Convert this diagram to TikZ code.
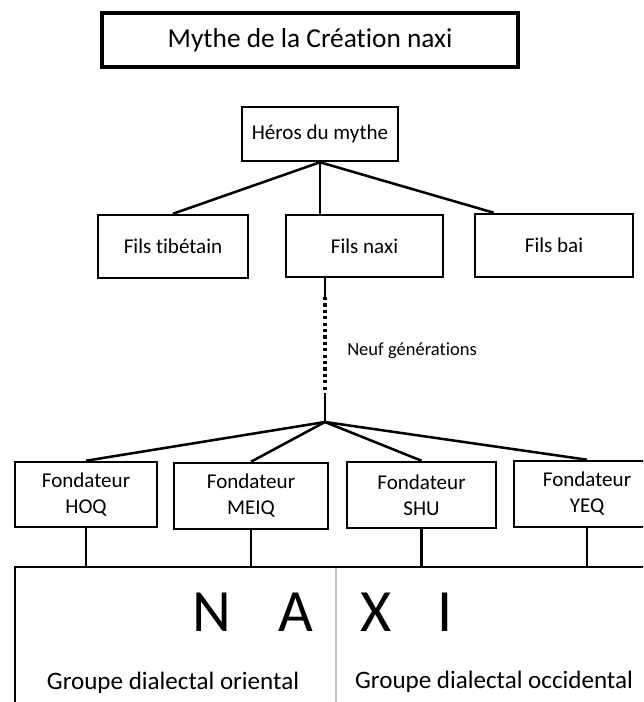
\documentclass[tikz,border=0pt]{standalone}
\usepackage{fontspec}
\setmainfont{Carlito}[Ligatures={NoCommon,NoContextual}]
\begin{document}
\begin{tikzpicture}[x=0.75pt,y=-0.75pt,
  box/.style={draw,line width=1.9pt,inner sep=0pt,align=center,font=\fontsize{15.8}{19.5}\selectfont},
  conn/.style={line width=1.9pt},
  dotline/.style={line width=2.8pt,dash pattern=on 2.4pt off 2.4pt}]
\useasboundingbox (0,0) rectangle (643,702);
\clip (0,0) rectangle (643,702);
% title
\node[box,line width=2.8pt,minimum width=312pt,minimum height=40.5pt,font=\fontsize{20.5}{24}\selectfont] (title) at (310,40) {Mythe de la Créat\kern0pt ion naxi};
% hero and sons
\node[box,minimum width=117pt,minimum height=40.5pt] (heros) at (320,134) {Héros du mythe};
\node[box,minimum width=112.5pt,minimum height=47.25pt] (ftib) at (173,246.5) {Fils t\kern0pt ibétain};
\node[box,minimum width=117.75pt,minimum height=46.5pt] (fnaxi) at (364.5,246) {Fils naxi};
\node[box,minimum width=118.5pt,minimum height=47.25pt] (fbai) at (554,245.5) {Fils bai};
\draw[conn] (heros.south) -- (ftib.north);
\draw[conn] (heros.south) -- (heros.south |- fnaxi.north);
\draw[conn] (heros.south) -- ([xshift=15pt]fbai.north west);
% nine generations
\coordinate (j) at (325,422);
\coordinate (d1) at (325,297);
\coordinate (d2) at (325,393);
\draw[conn] (fnaxi.south -| j) -- (d1);
\draw[dotline] (d1) -- (d2);
\draw[conn] (d2) -- (j);
\node[anchor=west,inner sep=0pt,font=\fontsize{13.9}{16}\selectfont] (neuf) at (347,351) {Neuf générat\kern0pt ions};
% founders
\node[box,minimum width=106.5pt,minimum height=48.75pt] (hoq) at (86,494.5) {Fondateur\\HOQ};
\node[box,minimum width=115.5pt,minimum height=49.5pt] (meiq) at (251,496) {Fondateur\\MEIQ};
\node[box,minimum width=111.75pt,minimum height=49.5pt] (shu) at (421.5,495) {Fondateur\\SHU};
\node[box,minimum width=109.5pt,minimum height=49.5pt] (yeq) at (587,494) {Fondateur\\YEQ};
\draw[conn] (j) -- (hoq.north);
\draw[conn] (j) -- (meiq.north);
\draw[conn] (j) -- (shu.north);
\draw[conn] (j) -- (yeq.north);
% big table
\coordinate (bt) at (15,567);
\draw[line width=1.5pt] (bt) rectangle (720,760);
\draw[conn] (hoq.south) -- (hoq.south |- bt);
\draw[conn] (meiq.south) -- (meiq.south |- bt);
\draw[conn] (shu.south) -- (shu.south |- bt);
\draw[conn] (yeq.south) -- (yeq.south |- bt);
\draw[line width=1.2pt,color=black!22] (336,568) -- (336,702);
\node[inner sep=0pt,font=\fontsize{45}{50}\selectfont] (ln) at (212,612) {N};
\node[inner sep=0pt,font=\fontsize{45}{50}\selectfont] (la) at (296,612) {A};
\node[inner sep=0pt,font=\fontsize{45}{50}\selectfont] (lx) at (376,612) {X};
\node[inner sep=0pt,font=\fontsize{45}{50}\selectfont] (li) at (445,612) {I};
\node[inner sep=0pt,font=\fontsize{18.8}{22}\selectfont] (gor) at (173,683) {Groupe dialectal oriental};
\node[inner sep=0pt,font=\fontsize{18.8}{22}\selectfont] (goc) at (494,682) {Groupe dialectal occidental};
\end{tikzpicture}
\end{document}
